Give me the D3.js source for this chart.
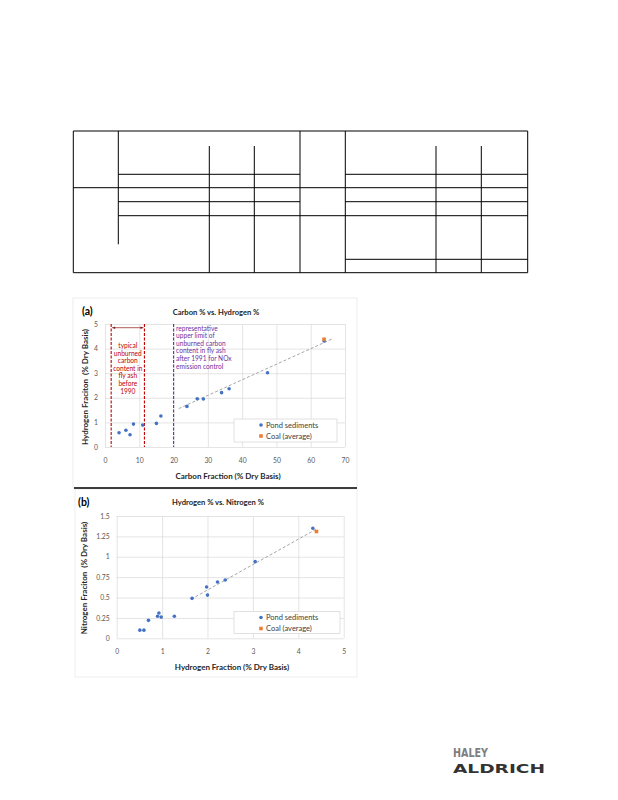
<!DOCTYPE html>
<html>
<head>
<meta charset="utf-8">
<script src="https://cdn.jsdelivr.net/npm/d3@7/dist/d3.min.js"></script>
<style>
  body { margin: 0; background: #fff; }
  svg { display: block; font-family: Lato, "Open Sans", sans-serif; }
</style>
</head>
<body>
<svg id="page" width="618" height="800"></svg>
<script>
// chart (a): carbon vs hydrogen
const pondCarbon = [4.1, 6.1, 7.3, 8.3, 11.0, 15.0, 16.3, 23.9, 26.9, 28.7, 34.0, 36.2, 47.4, 63.9];
const pondHydrogenA = [0.58, 0.68, 0.50, 0.93, 0.89, 0.96, 1.26, 1.65, 1.96, 1.95, 2.21, 2.37, 3.02, 4.31];
const coalCarbon = [63.9];
const coalHydrogenA = [4.38];
const trendA = { x: [21.5, 66.2], y: [1.56, 4.39] };
const xTicksA = [0, 10, 20, 30, 40, 50, 60, 70];
const yTicksA = [0, 1, 2, 3, 4, 5];
const redLines = [1.8, 11.5];
const purpleLine = 20;
const redNote = ["typical", "unburned", "carbon", "content in", "fly ash", "before", "1990"];
const purpleNote = ["representative", "upper limit of", "unburned carbon", "content in fly ash", "after 1991 for NOx", "emission control"];

// chart (b): hydrogen vs nitrogen
const pondHydrogenB = [0.51, 0.60, 0.70, 0.90, 0.93, 0.98, 1.27, 1.66, 1.98, 2.00, 2.22, 2.39, 3.05, 4.32];
const pondNitrogen = [0.10, 0.10, 0.22, 0.27, 0.31, 0.26, 0.27, 0.49, 0.63, 0.53, 0.69, 0.715, 0.94, 1.35];
const coalHydrogenB = [4.40];
const coalNitrogen = [1.31];
const trendB = { x: [1.64, 4.40], y: [0.48, 1.34] };
const xTicksB = [0, 1, 2, 3, 4, 5];
const yTicksB = [0, 0.25, 0.5, 0.75, 1, 1.25, 1.5];

const seriesNames = ["Pond sediments", "Coal (average)"];
const blue = "#4472C4", orange = "#ED7D31";

const svg = d3.select("#page");
svg.append("rect").attr("width", 618).attr("height", 800).attr("fill", "#fff");

// empty table at top of the page
const table = svg.append("g").attr("stroke", "#000").attr("stroke-width", 1);
const tl = [
  [73.3, 131, 527.7, 131], [73.3, 272.7, 527.7, 272.7],
  [73.3, 131, 73.3, 272.7], [527.7, 131, 527.7, 272.7],
  [118.3, 131, 118.3, 244.3],
  [209.3, 146, 209.3, 272.7], [254.3, 146, 254.3, 272.7],
  [300, 131, 300, 272.7], [345.3, 131, 345.3, 272.7],
  [436, 146, 436, 272.7], [481.3, 146, 481.3, 272.7],
  [118.3, 174.3, 300, 174.3], [345.3, 174.3, 527.7, 174.3],
  [73.3, 187.7, 527.7, 187.7],
  [118.3, 201.7, 300, 201.7], [345.3, 201.7, 527.7, 201.7],
  [118.3, 215.7, 527.7, 215.7],
  [345.3, 259.3, 527.7, 259.3]
];
tl.forEach(d => table.append("line")
  .attr("x1", d[0]).attr("y1", d[1]).attr("x2", d[2]).attr("y2", d[3]));

// chart frames
svg.append("rect").attr("x", 73).attr("y", 298).attr("width", 284).attr("height", 190)
  .attr("fill", "none").attr("stroke", "#e8e8e8").attr("stroke-width", 0.8);
svg.append("rect").attr("x", 75).attr("y", 489).attr("width", 282).attr("height", 188)
  .attr("fill", "none").attr("stroke", "#e8e8e8").attr("stroke-width", 0.8);
svg.append("line").attr("x1", 74).attr("x2", 357).attr("y1", 488).attr("y2", 488)
  .attr("stroke", "#000").attr("stroke-width", 1.6);

function drawChart(cfg) {
  const g = svg.append("g");
  const x = d3.scaleLinear().domain(cfg.xDomain).range(cfg.xRange);
  const y = d3.scaleLinear().domain(cfg.yDomain).range(cfg.yRange);
  const [x0, x1] = cfg.xRange, [y0, y1] = cfg.yRange;

  // gridlines
  g.append("g").attr("transform", `translate(0,${y0})`)
    .call(d3.axisBottom(x).tickValues(cfg.xTicks).tickSize(-(y0 - y1)).tickFormat(""))
    .call(a => a.select(".domain").remove())
    .selectAll("line").attr("stroke", "#d9d9d9").attr("stroke-width", 0.7);
  g.append("g").attr("transform", `translate(${x0},0)`)
    .call(d3.axisLeft(y).tickValues(cfg.yTicks).tickSize(-(x1 - x0)).tickFormat(""))
    .call(a => a.select(".domain").remove())
    .selectAll("line").attr("stroke", "#d9d9d9").attr("stroke-width", 0.7);

  // tick labels
  g.append("g").attr("transform", `translate(0,${y0 + 2})`)
    .call(d3.axisBottom(x).tickValues(cfg.xTicks).tickSize(0).tickPadding(9).tickFormat(d3.format("")))
    .call(a => a.select(".domain").remove())
    .selectAll("text").attr("font-size", 6.8).attr("fill", "#595959").attr("font-family", "Lato");
  g.append("g").attr("transform", `translate(${x0 - 4},0)`)
    .call(d3.axisLeft(y).tickValues(cfg.yTicks).tickSize(0).tickPadding(3).tickFormat(d3.format("")))
    .call(a => a.select(".domain").remove())
    .selectAll("text").attr("font-size", 6.8).attr("fill", "#595959").attr("font-family", "Lato");

  if (cfg.extra) cfg.extra(g, x, y);

  // trendline
  g.append("line")
    .attr("x1", x(cfg.trend.x[0])).attr("y1", y(cfg.trend.y[0]))
    .attr("x2", x(cfg.trend.x[1])).attr("y2", y(cfg.trend.y[1]))
    .attr("stroke", "#a6a6a6").attr("stroke-width", 1).attr("stroke-dasharray", "3,2");

  // points
  g.selectAll("circle.pond").data(cfg.pondX.map((v, i) => [v, cfg.pondY[i]]))
    .enter().append("circle").attr("class", "pond")
    .attr("cx", d => x(d[0])).attr("cy", d => y(d[1])).attr("r", 1.8).attr("fill", blue);
  g.selectAll("rect.coal").data(cfg.coalX.map((v, i) => [v, cfg.coalY[i]]))
    .enter().append("rect").attr("class", "coal")
    .attr("x", d => x(d[0]) - 1.8).attr("y", d => y(d[1]) - 1.8)
    .attr("width", 3.6).attr("height", 3.6).attr("fill", orange);

  // legend
  const lg = cfg.legend;
  g.append("rect").attr("x", lg.x).attr("y", lg.y).attr("width", lg.w).attr("height", lg.h)
    .attr("fill", "#fff").attr("stroke", "#d9d9d9").attr("stroke-width", 0.8);
  seriesNames.forEach((name, i) => {
    const cy = lg.y + 6 + i * 11;
    if (i === 0) g.append("circle").attr("cx", lg.x + 27).attr("cy", cy).attr("r", 1.8).attr("fill", blue);
    else g.append("rect").attr("x", lg.x + 25.2).attr("y", cy - 1.8).attr("width", 3.6).attr("height", 3.6).attr("fill", orange);
    g.append("text").attr("x", lg.x + 32).attr("y", cy + 2.6).attr("font-size", 7.5)
      .attr("fill", "#404040").text(name);
  });

  // titles
  g.append("text").attr("x", cfg.tag[0]).attr("y", cfg.tag[1]).attr("font-size", 10.5)
    .attr("font-weight", "bold").attr("fill", "#000").text(cfg.tagText);
  g.append("text").attr("x", cfg.title[0]).attr("y", cfg.title[1]).attr("text-anchor", "middle")
    .attr("font-size", 7.6).attr("font-weight", "bold").attr("fill", "#262626").text(cfg.titleText);
  g.append("text").attr("x", cfg.xLab[0]).attr("y", cfg.xLab[1]).attr("text-anchor", "middle")
    .attr("font-size", 8).attr("font-weight", "bold").attr("fill", "#262626").text(cfg.xLabText);
  g.append("text").attr("transform", `translate(${cfg.yLab[0]},${cfg.yLab[1]}) rotate(-90)`)
    .attr("text-anchor", "middle").attr("font-size", 8).attr("font-weight", "bold")
    .attr("fill", "#262626").attr("xml:space", "preserve").text(cfg.yLabText);
}

drawChart({
  xDomain: [0, 70], xRange: [105, 345],
  yDomain: [0, 5], yRange: [447, 324],
  xTicks: xTicksA, yTicks: yTicksA,
  pondX: pondCarbon, pondY: pondHydrogenA,
  coalX: coalCarbon, coalY: coalHydrogenA,
  trend: trendA,
  legend: { x: 234, y: 419, w: 103, h: 23 },
  tag: [82, 314.5], tagText: "(a)",
  title: [216, 314.5], titleText: "Carbon % vs. Hydrogen %",
  xLab: [228, 479], xLabText: "Carbon Fraction (% Dry Basis)",
  yLab: [88, 387], yLabText: "Hydrogen Fraciton  (% Dry Basis)",
  extra: (g, x, y) => {
    redLines.forEach(v => g.append("line")
      .attr("x1", x(v)).attr("x2", x(v)).attr("y1", y(5)).attr("y2", y(0))
      .attr("stroke", "#C00000").attr("stroke-width", 1.1).attr("stroke-dasharray", "3,1.5"));
    g.append("line").attr("x1", x(purpleLine)).attr("x2", x(purpleLine)).attr("y1", y(5)).attr("y2", y(0))
      .attr("stroke", "#7030A0").attr("stroke-width", 1.1).attr("stroke-dasharray", "3,1.5");
    // double arrow between the red lines
    const ay = y(4.85), ax0 = x(redLines[0]) + 1, ax1 = x(redLines[1]) - 1;
    g.append("line").attr("x1", ax0).attr("x2", ax1).attr("y1", ay).attr("y2", ay)
      .attr("stroke", "#8B1A1A").attr("stroke-width", 0.7);
    g.append("path").attr("d", `M${ax0},${ay}l3,-1.3v2.6z M${ax1},${ay}l-3,-1.3v2.6z`).attr("fill", "#8B1A1A");
    const cx = (x(redLines[0]) + x(redLines[1])) / 2;
    redNote.forEach((t, i) => g.append("text").attr("x", cx).attr("y", 348 + i * 7.6)
      .attr("text-anchor", "middle").attr("font-size", 6.6).attr("fill", "#C00000").text(t));
    purpleNote.forEach((t, i) => g.append("text").attr("x", x(purpleLine) + 2.5).attr("y", 330.5 + i * 7.6)
      .attr("font-size", 6.6).attr("fill", "#7030A0").text(t));
  }
});

drawChart({
  xDomain: [0, 5], xRange: [116.7, 343.7],
  yDomain: [0, 1.5], yRange: [638.3, 516],
  xTicks: xTicksB, yTicks: yTicksB,
  pondX: pondHydrogenB, pondY: pondNitrogen,
  coalX: coalHydrogenB, coalY: coalNitrogen,
  trend: trendB,
  legend: { x: 234, y: 611.5, w: 106, h: 22 },
  tag: [78, 505.5], tagText: "(b)",
  title: [218, 505], titleText: "Hydrogen % vs. Nitrogen %",
  xLab: [232, 670], xLabText: "Hydrogen Fraction (% Dry Basis)",
  yLab: [87, 578], yLabText: "Nitrogen Fraciton  (% Dry Basis)"
});

// company logo
svg.append("text").attr("x", 453).attr("y", 757).attr("font-family", "DejaVu Sans Condensed")
  .attr("font-weight", "bold").attr("font-size", 13).attr("fill", "#7f7f7f")
  .attr("textLength", 35).attr("lengthAdjust", "spacingAndGlyphs").text("HALEY");
svg.append("text").attr("x", 453).attr("y", 773).attr("font-family", "DejaVu Sans Condensed")
  .attr("font-weight", "bold").attr("font-size", 13).attr("fill", "#333")
  .attr("textLength", 92).attr("lengthAdjust", "spacingAndGlyphs").text("ALDRICH");
</script>
</body>
</html>
